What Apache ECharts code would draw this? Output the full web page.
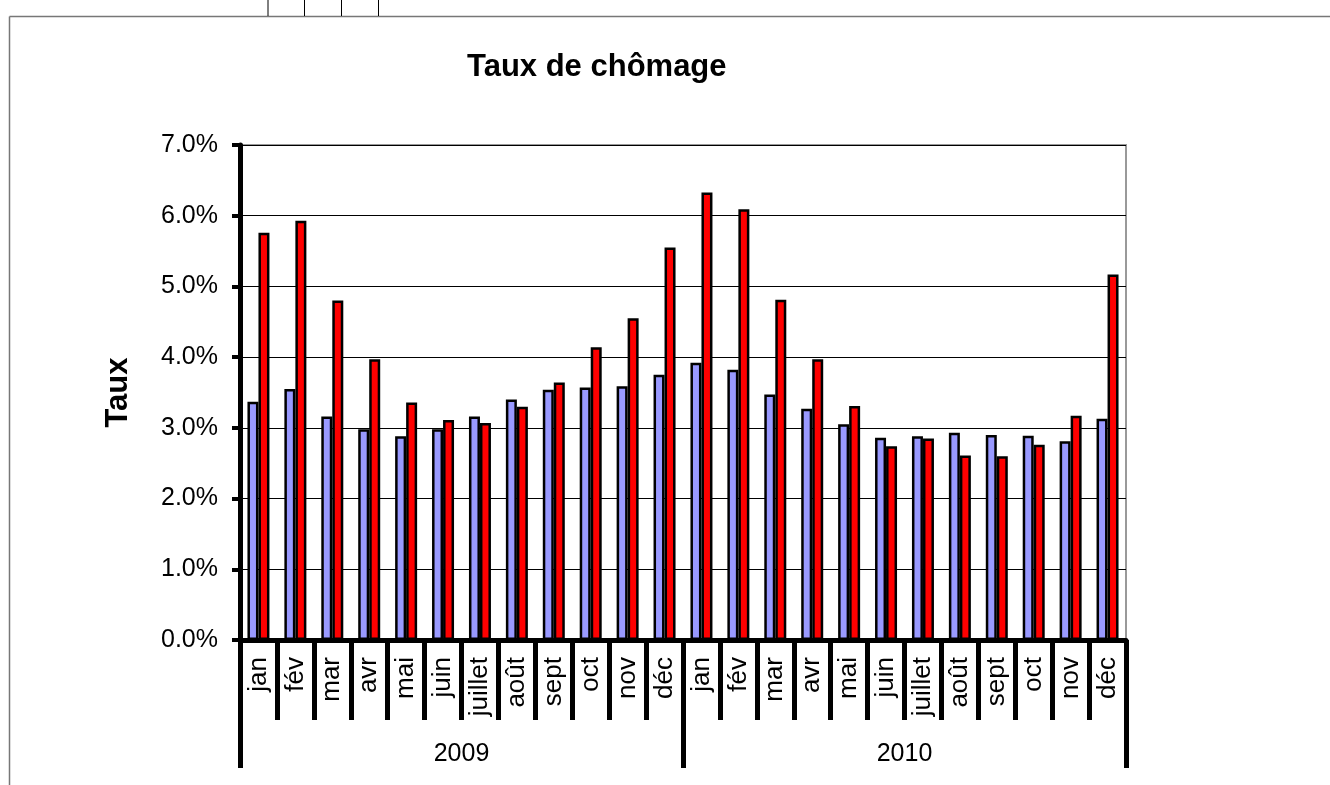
<!DOCTYPE html>
<html>
<head>
<meta charset="utf-8">
<title>Taux de chômage</title>
<script src="https://cdn.jsdelivr.net/npm/echarts@6/dist/echarts.min.js"></script>
<style>
    html, body { margin: 0; padding: 0; background: #fff; }
    #chart { width: 1330px; height: 785px; }
</style>
</head>
<body>
<div id="chart"></div>
<script>
// mois (deux années) et années
var months = ['jan', 'fév', 'mar', 'avr', 'mai', 'juin', 'juillet', 'août', 'sept', 'oct', 'nov', 'déc',
              'jan', 'fév', 'mar', 'avr', 'mai', 'juin', 'juillet', 'août', 'sept', 'oct', 'nov', 'déc'];
var years = ['2009', '2010'];

// taux en %
var serieBleue = [3.37, 3.55, 3.16, 2.98, 2.88, 2.98, 3.16, 3.40, 3.54, 3.57, 3.59, 3.75,
                  3.92, 3.82, 3.47, 3.27, 3.05, 2.86, 2.88, 2.93, 2.90, 2.89, 2.81, 3.13];
var serieRouge = [5.76, 5.93, 4.80, 3.97, 3.36, 3.11, 3.07, 3.30, 3.64, 4.14, 4.55, 5.55,
                  6.33, 6.09, 4.81, 3.97, 3.31, 2.74, 2.85, 2.61, 2.60, 2.76, 3.17, 5.17];

var yTicks = [0, 1, 2, 3, 4, 5, 6, 7];

var font = "'Liberation Sans', Arial, sans-serif";

var myChart = echarts.init(document.getElementById('chart'));

var option = {
    animation: false,
    backgroundColor: '#fff',
    textStyle: { fontFamily: font, color: '#000' },
    title: {
        text: 'Taux de chômage',
        left: 462,
        top: 47,
        textStyle: { fontSize: 31, fontWeight: 'bold', color: '#000', fontFamily: font }
    },
    graphic: [
        // cadre de la feuille
        { type: 'line', silent: true, shape: { x1: 9.5, y1: 16.5, x2: 1330, y2: 16.5 }, style: { stroke: '#777', lineWidth: 1.5 } },
        { type: 'line', silent: true, shape: { x1: 9.5, y1: 16.5, x2: 9.5, y2: 785 }, style: { stroke: '#777', lineWidth: 1.5 } },
        { type: 'line', silent: true, shape: { x1: 268, y1: 0, x2: 268, y2: 16 }, style: { stroke: '#000', lineWidth: 1 } },
        { type: 'line', silent: true, shape: { x1: 304.5, y1: 0, x2: 304.5, y2: 16 }, style: { stroke: '#000', lineWidth: 1 } },
        { type: 'line', silent: true, shape: { x1: 341.5, y1: 0, x2: 341.5, y2: 16 }, style: { stroke: '#000', lineWidth: 1 } },
        { type: 'line', silent: true, shape: { x1: 378.5, y1: 0, x2: 378.5, y2: 16 }, style: { stroke: '#000', lineWidth: 1 } }
    ],
    grid: {
        left: 240,
        right: 204,
        top: 145,
        bottom: 145,
        show: true,
        borderColor: '#999',
        borderWidth: 2
    },
    xAxis: [
        {
            type: 'category',
            data: months,
            position: 'bottom',
            axisLine: { show: true, lineStyle: { color: '#000', width: 5 } },
            axisTick: { show: true, length: 80, interval: 0, lineStyle: { color: '#000', width: 5 } },
            axisLabel: { interval: 0, rotate: 90, margin: 17, fontSize: 26, color: '#000', fontFamily: font },
            splitLine: { show: false }
        },
        {
            type: 'category',
            data: years,
            position: 'bottom',
            axisLine: { show: false },
            axisTick: { show: true, length: 128, interval: 0, lineStyle: { color: '#000', width: 5 } },
            axisLabel: { interval: 0, margin: 102, fontSize: 25, color: '#000', fontFamily: font },
            splitLine: { show: false }
        }
    ],
    yAxis: {
        type: 'value',
        min: yTicks[0],
        max: yTicks[yTicks.length - 1],
        interval: 1,
        name: 'Taux',
        nameLocation: 'middle',
        nameGap: 106,
        nameTextStyle: { fontSize: 31, fontWeight: 'bold', color: '#000', fontFamily: font },
        axisLine: { show: true, lineStyle: { color: '#000', width: 5 } },
        axisTick: { show: true, length: 8, lineStyle: { color: '#000', width: 4 } },
        axisLabel: {
            margin: 22,
            fontSize: 25,
            color: '#000',
            fontFamily: font,
            formatter: function (v) { return v.toFixed(1) + '%'; }
        },
        splitLine: { show: true, lineStyle: { color: '#000', width: 1 } }
    },
    series: [
        {
            name: 'série 1',
            type: 'bar',
            xAxisIndex: 0,
            data: serieBleue,
            barWidth: 11,
            barGap: '0%',
            itemStyle: { color: '#9999FF', borderColor: '#000', borderWidth: 2.5 }
        },
        {
            name: 'série 2',
            type: 'bar',
            xAxisIndex: 0,
            data: serieRouge,
            barWidth: 11,
            barGap: '0%',
            itemStyle: { color: '#FF0000', borderColor: '#000', borderWidth: 2.5 }
        }
    ]
};
myChart.setOption(option);
</script>
</body>
</html>
